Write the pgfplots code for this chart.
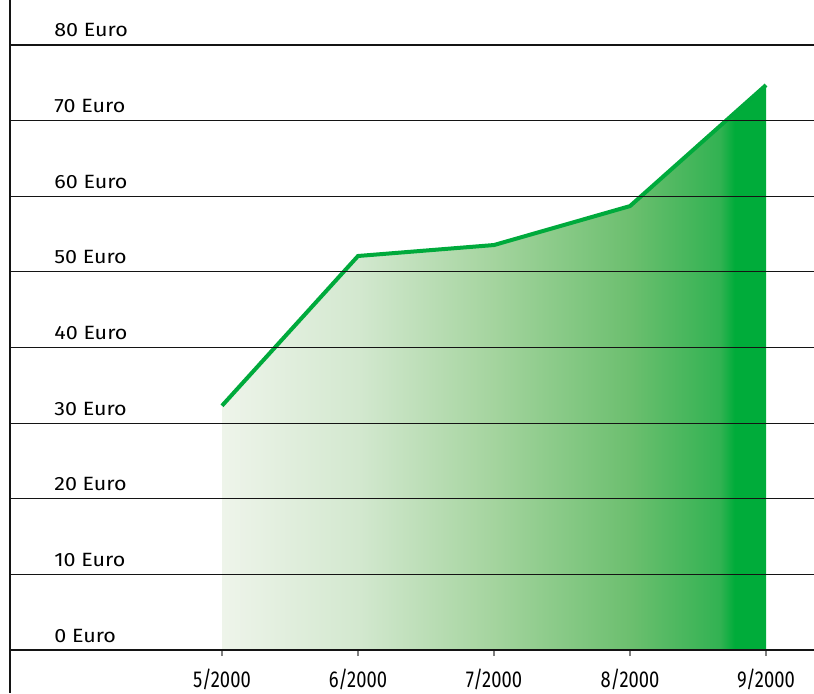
\documentclass[border=0pt]{standalone}
\usepackage{fontspec}
\setmainfont{Fira Sans}
\newfontfamily\condfont[FakeStretch=0.8]{Fira Sans}
\newfontfamily\widefont[FakeStretch=1.12]{Fira Sans}
\usepackage{pgfplots}
\pgfplotsset{compat=1.18}
\definecolor{linegreen}{RGB}{0,170,60}
\definecolor{gridblack}{RGB}{20,20,20}
\pgfdeclarehorizontalshading{greenfade}{100bp}{%
  rgb(0bp)=(0.933,0.957,0.918);
  rgb(25bp)=(0.933,0.957,0.918);
  rgb(37.5bp)=(0.827,0.910,0.812);
  rgb(50bp)=(0.643,0.831,0.620);
  rgb(62.5bp)=(0.424,0.749,0.435);
  rgb(70.75bp)=(0.196,0.698,0.322);
  rgb(72.1bp)=(0,0.675,0.227);
  rgb(75bp)=(0,0.675,0.227);
  rgb(100bp)=(0,0.675,0.227)}
\begin{document}
\begin{tikzpicture}
\useasboundingbox (-5pt,-21.5pt) rectangle (402pt,325pt);
\begin{axis}[
  at={(0,0)}, anchor=south west,
  scale only axis, width=402pt, height=325pt,
  xmin=-1.5588, xmax=4.3529, ymin=0, ymax=85.95,
  axis x line=bottom, axis y line=left,
  axis line style={-, gridblack, line width=0.7pt},
  axis on top,
  ymajorgrids, grid style={gridblack, line width=0.6pt},
  ytick={0,10,...,80},
  yticklabels={0 Euro,10 Euro,20 Euro,30 Euro,40 Euro,50 Euro,60 Euro,70 Euro,80 Euro},
  ytick style={draw=none},
  yticklabel style={anchor=base west, inner sep=0pt, xshift=25pt, yshift=4pt, font=\widefont\fontsize{9.6}{11}\selectfont},
  xtick={0,1,2,3,4},
  xticklabels={5/2000,6/2000,7/2000,8/2000,9/2000},
  xtick style={gray, line width=0.6pt},
  tick align=outside, major tick length=3pt,
  xticklabel style={anchor=base, inner sep=0pt, yshift=-15.5pt, font=\condfont\fontsize{11.5}{13}\selectfont},
  clip=false,
]
\addplot[draw=none, shading=greenfade] table {
x y
0 32.3
1 52.1
2 53.55
3 58.7
4 74.7
} \closedcycle;
\addplot[linegreen, line width=2pt, line join=miter] table {
x y
0 32.3
1 52.1
2 53.55
3 58.7
4 74.7
};
\draw[gridblack, line width=0.7pt] (rel axis cs:0,0) -- ([yshift=-21.5pt]rel axis cs:0,0);
\end{axis}
\end{tikzpicture}
\end{document}
